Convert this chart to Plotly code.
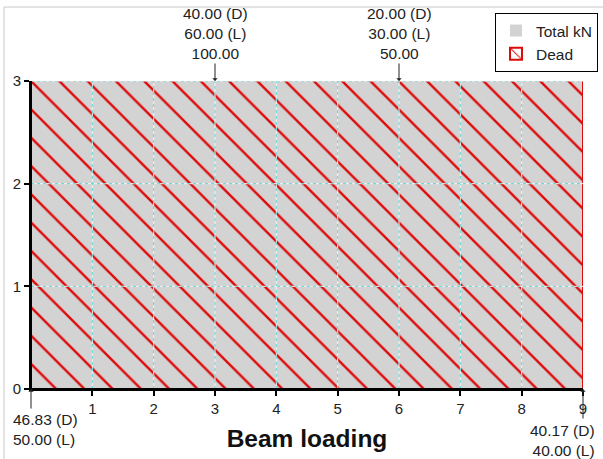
import plotly.graph_objects as go

# ---- data ----
beam_span = [0, 9]            # beam start/end (m)
load_height = 3               # plotted distributed load level
x_ticks = [1, 2, 3, 4, 5, 6, 7, 8, 9]
y_ticks = [0, 1, 2, 3]
point_load_pos = [3, 6]
point_load_dead = [40.00, 20.00]
point_load_live = [60.00, 30.00]
point_load_total = [100.00, 50.00]
reaction_pos = [0, 9]
reaction_dead = [46.83, 40.17]
reaction_live = [50.00, 40.00]

FONT = "Liberation Sans, Arial, sans-serif"
TXT = "#222222"
RED = "#dd0a0a"

mid = (beam_span[0] + beam_span[1]) / 2
width = beam_span[1] - beam_span[0]

fig = go.Figure()
fig.add_trace(go.Bar(
    x=[mid], y=[load_height], width=[width], name="Total kN",
    marker=dict(color="#d3d3d3", line=dict(width=0)),
))
fig.add_trace(go.Bar(
    x=[mid], y=[load_height], width=[width], name="Dead",
    marker=dict(color="rgba(0,0,0,0)", line=dict(color=RED, width=1),
                pattern=dict(shape="\\", fgcolor=RED, bgcolor="rgba(0,0,0,0)",
                             fgopacity=1, size=20, solidity=0.12)),
))

shapes = []
grid_base = dict(color="#eef6f6", width=1)
grid_style = dict(color="#5fd3d3", width=1, dash="3px,3px")
for xv in x_ticks[:-1]:
    for st in (grid_base, grid_style):
        shapes.append(dict(type="line", xref="x", yref="y", x0=xv, x1=xv,
                           y0=y_ticks[0], y1=y_ticks[-1], line=st, layer="above"))
for yv in y_ticks[1:]:
    for st in (grid_base, grid_style):
        shapes.append(dict(type="line", xref="x", yref="y", x0=beam_span[0], x1=beam_span[1],
                           y0=yv, y1=yv, line=st, layer="above"))
# black axis lines drawn above the bar outline
shapes.append(dict(type="line", xref="x", yref="y", x0=beam_span[0], x1=beam_span[1],
                   y0=y_ticks[0], y1=y_ticks[0], line=dict(color="#000", width=2), layer="above"))
shapes.append(dict(type="line", xref="x", yref="y", x0=beam_span[0], x1=beam_span[0],
                   y0=y_ticks[0], y1=y_ticks[-1], line=dict(color="#000", width=2), layer="above"))
# outer frame (left/top)
shapes.append(dict(type="rect", xref="paper", yref="paper",
                   x0=-27/552, x1=1.2, y0=-1.3, y1=1 + 74/308,
                   line=dict(color="#c8c8c8", width=1), layer="below"))

annotations = []
for xp, d, l, t in zip(point_load_pos, point_load_dead, point_load_live, point_load_total):
    annotations.append(dict(x=xp, y=load_height, xref="x", yref="y", text="",
                            showarrow=True, ax=0, ay=-19, arrowhead=1, arrowsize=0.9,
                            arrowwidth=1, arrowcolor="#222"))
    annotations.append(dict(x=xp, y=load_height, xref="x", yref="y",
                            text=f"{d:.2f} (D)<br>{l:.2f} (L)<br>{t:.2f}",
                            showarrow=False, yanchor="bottom", xanchor="center",
                            yshift=17, font=dict(size=15.5, color=TXT, family=FONT)))
arrow_len = [21, 31]
text_shift = [(-20, -20), (14, -31)]
anchors = ["left", "right"]
for xp, d, l, al, (xs, ys), anc in zip(reaction_pos, reaction_dead, reaction_live,
                                       arrow_len, text_shift, anchors):
    annotations.append(dict(x=xp, y=0, xref="x", yref="y", text="",
                            showarrow=True, ax=0, ay=al, arrowhead=1, arrowsize=0.9,
                            arrowwidth=1, arrowcolor="#222"))
    annotations.append(dict(x=xp, y=0, xref="x", yref="y",
                            text=f"{d:.2f} (D)<br>{l:.2f} (L)", align=anc,
                            showarrow=False, yanchor="top", xanchor=anc,
                            xshift=xs, yshift=ys, font=dict(size=15.5, color=TXT, family=FONT)))

fig.update_layout(
    width=603, height=459,
    margin=dict(l=31, r=20, t=81, b=70, autoexpand=False),
    paper_bgcolor="white", plot_bgcolor="white",
    barmode="overlay", bargap=0,
    font=dict(family=FONT, size=15, color=TXT),
    showlegend=True,
    legend=dict(x=1 + 15/552, xanchor="right", y=1 + 68/308, yanchor="top",
                bordercolor="#000", borderwidth=1, bgcolor="white",
                font=dict(size=15.5, color=TXT, family=FONT),
                tracegroupgap=0, itemsizing="constant"),
    shapes=shapes, annotations=annotations,
)
fig.update_xaxes(range=beam_span, tickvals=x_ticks, showgrid=False, zeroline=False,
                 showline=True, linecolor="#000", linewidth=2, layer="above traces",
                 ticks="outside", ticklen=5, tickwidth=2, tickcolor="#000",
                 tickfont=dict(size=15, color=TXT), automargin=False,
                 title=dict(text="<b>Beam loading</b>", font=dict(size=24.5, color="#111", family=FONT),
                            standoff=14))
fig.update_yaxes(range=[y_ticks[0], y_ticks[-1]], tickvals=y_ticks, showgrid=False, zeroline=False,
                 showline=True, linecolor="#000", linewidth=2, layer="above traces",
                 ticks="outside", ticklen=5, tickwidth=2, tickcolor="#000",
                 tickfont=dict(size=15, color=TXT), automargin=False)

fig.write_html("out.html", config={"displayModeBar": False},
               post_script="document.body.style.margin='0';")
